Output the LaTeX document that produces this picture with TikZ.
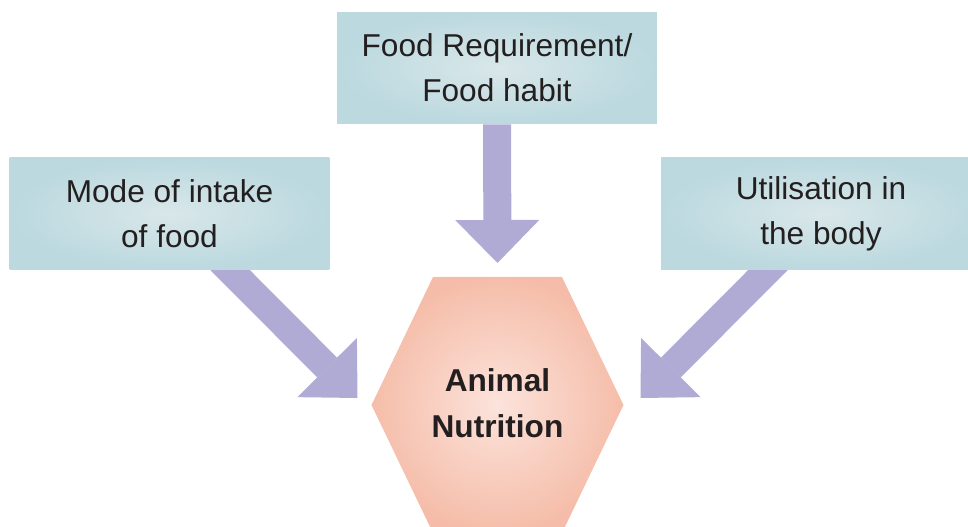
\documentclass[tikz,border=0pt]{standalone}
\usepackage{fontspec}
\setmainfont{Liberation Sans}
\usetikzlibrary{arrows.meta,backgrounds}
\definecolor{boxin}{HTML}{D9E7E9}
\definecolor{boxout}{HTML}{BBD9DF}
\definecolor{hexin}{HTML}{FCE3DB}
\definecolor{hexout}{HTML}{F5BDA9}
\definecolor{flowfill}{HTML}{B0ABD5}
\definecolor{textgray}{HTML}{231F20}

\begin{document}
\begin{tikzpicture}[x=0.02cm,y=0.02cm,
	factor/.style={inner color=boxin,outer color=boxout,minimum width=6.4cm,minimum height=2.24cm,
		align=center,text=textgray,font=\fontsize{18}{25.5}\selectfont},
	centre/.style={align=center,text=textgray,font=\bfseries\fontsize{18}{26.5}\selectfont},
	flow/.style={draw=flowfill,line width=0.56cm,line cap=butt,
		-{Triangle[width=1.68cm,length=0.86cm,line width=0pt]}}
	]
	\useasboundingbox (0,0) rectangle (968,527);
	
	\node[factor] (req) at (497,459) {Food Requirement/\\Food habit};
	\node[factor] (intake) at (169.5,313.5) {Mode of intake\\of food};
	\node[factor] (use) at (821,313.5) {Utilisation in\\the body};
	
	\shade[inner color=hexin,outer color=hexout,shift={(497.5,122)}]
		(-126,0) -- (-64.5,128) -- (64.5,128) -- (126,0) -- (64.5,-128) -- (-64.5,-128) -- cycle;
	\node[centre] (nut) at (497.5,124) {Animal\\Nutrition};
	
	\coordinate (tipreq) at (497.5,264);
	\coordinate (tipintake) at (357.5,129);
	\coordinate (tipuse) at (640.5,129);
	
	\begin{scope}[on background layer]
		\draw[flow] (req.south) -- (tipreq);
		\draw[flow] ([shift={(20.5,40)}]intake.south) -- (tipintake);
		\draw[flow] ([shift={(-14,39)}]use.south) -- (tipuse);
	\end{scope}
	
\end{tikzpicture}
\end{document}
